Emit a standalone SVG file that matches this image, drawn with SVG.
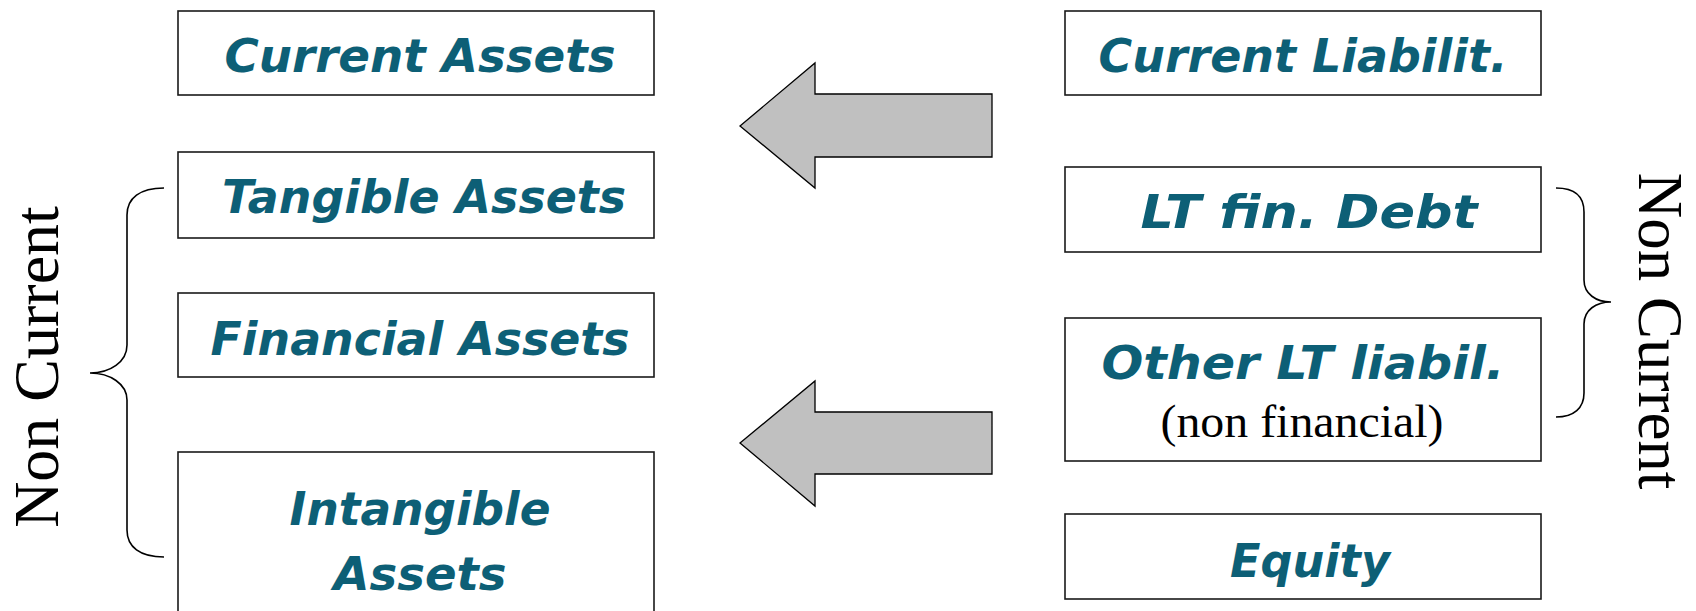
<svg xmlns="http://www.w3.org/2000/svg" width="1696" height="611" viewBox="0 0 1696 611">
<style>
.box{fill:#fff;stroke:#1a1a1a;stroke-width:1.6}
.lbl{font-family:"DejaVu Sans",sans-serif;font-weight:bold;font-style:italic;font-size:46px;fill:#0d5f76;text-anchor:middle}
.ser{font-family:"Liberation Serif","Times New Roman",serif;fill:#000;text-anchor:middle}
.arrow{fill:#c0c0c0;stroke:#000;stroke-width:1.3}
.brace{fill:none;stroke:#000;stroke-width:1.6}
</style>
<rect width="1696" height="611" fill="#fff"/>
<g id="current-assets"><rect class="box" x="178" y="11" width="476" height="84"/><text class="lbl" x="420" y="72" textLength="391" lengthAdjust="spacingAndGlyphs">Current Assets</text></g>
<g id="tangible-assets"><rect class="box" x="178" y="152" width="476" height="86"/><text class="lbl" x="424" y="213" textLength="404" lengthAdjust="spacingAndGlyphs">Tangible Assets</text></g>
<g id="financial-assets"><rect class="box" x="178" y="293" width="476" height="84"/><text class="lbl" x="420" y="355" textLength="419" lengthAdjust="spacingAndGlyphs">Financial Assets</text></g>
<g id="intangible-assets"><rect class="box" x="178" y="452" width="476" height="170"/><text class="lbl" x="420" y="525" textLength="261" lengthAdjust="spacingAndGlyphs">Intangible</text><text class="lbl" x="420" y="590" textLength="173" lengthAdjust="spacingAndGlyphs">Assets</text></g>
<g id="current-liabilities"><rect class="box" x="1065" y="11" width="476" height="84"/><text class="lbl" x="1303" y="72" textLength="409" lengthAdjust="spacingAndGlyphs">Current Liabilit.</text></g>
<g id="lt-fin-debt"><rect class="box" x="1065" y="167" width="476" height="85"/><text class="lbl" x="1309" y="228" textLength="337" lengthAdjust="spacingAndGlyphs">LT fin. Debt</text></g>
<g id="other-lt-liabil"><rect class="box" x="1065" y="318" width="476" height="143"/><text class="lbl" x="1303" y="379" textLength="403" lengthAdjust="spacingAndGlyphs">Other LT liabil.</text><text class="ser" x="1302" y="437" font-size="46" textLength="283" lengthAdjust="spacingAndGlyphs">(non financial)</text></g>
<g id="equity"><rect class="box" x="1065" y="514" width="476" height="85"/><text class="lbl" x="1310" y="577" textLength="160" lengthAdjust="spacingAndGlyphs">Equity</text></g>
<g id="label-left"><text class="ser" font-size="64" transform="translate(58,367) rotate(-90)">Non Current</text></g>
<g id="label-right"><text class="ser" font-size="63" transform="translate(1639,331) rotate(90)">Non Current</text></g>
<g id="connectors">
<polygon class="arrow" points="740,126 815,63 815,94 992,94 992,157 815,157 815,188"/>
<polygon class="arrow" points="740,443 815,381 815,412 992,412 992,474 815,474 815,506"/>
<path class="brace" d="M164,188 C140,188 127,198 127,215 L127,345 C127,362 110,373 90,373 C110,373 127,384 127,400 L127,530 C127,547 140,557 164,557"/>
<path class="brace" d="M1556,188 C1574,188 1584,196 1584,212 L1584,280 C1584,294 1596,302 1611,302 C1596,302 1584,310 1584,324 L1584,393 C1584,408 1574,417 1556,417"/>
</g>
</svg>
